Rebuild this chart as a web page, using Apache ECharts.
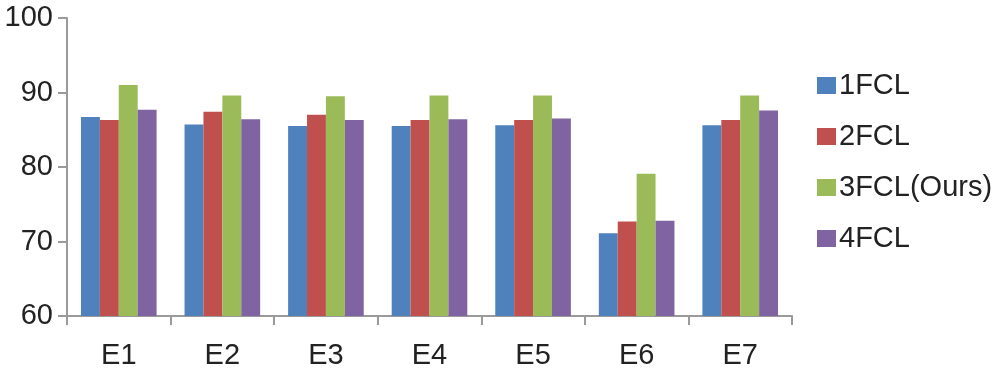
<!DOCTYPE html>
<html>
<head>
<meta charset="utf-8">
<script src="https://cdn.jsdelivr.net/npm/echarts@6/dist/echarts.min.js"></script>
<style>
  html, body { margin: 0; padding: 0; background: #fff; }
  #chart-box { width: 1000px; height: 373px; }
</style>
</head>
<body>
<div id="chart-box"></div>
<script>
const categories = ['E1', 'E2', 'E3', 'E4', 'E5', 'E6', 'E7']
const seriesNames = ['1FCL', '2FCL', '3FCL(Ours)', '4FCL']
const fcl1 = [86.7, 85.7, 85.5, 85.5, 85.6, 71.1, 85.6]
const fcl2 = [86.3, 87.4, 87.0, 86.3, 86.3, 72.7, 86.3]
const fcl3 = [91.0, 89.6, 89.5, 89.6, 89.6, 79.1, 89.6]
const fcl4 = [87.7, 86.4, 86.3, 86.4, 86.5, 72.8, 87.6]
const colors = ['#4F81BD', '#C0504D', '#9BBB59', '#8064A2']

const font = 'Liberation Sans, Arial, Helvetica, sans-serif'
const axisGray = '#9a9a9a'

const myChart = echarts.init(document.getElementById('chart-box'))
const options = {
  animation: false,
  color: colors,
  grid: { left: 67, right: 208, top: 18, bottom: 57 },
  legend: {
    orient: 'vertical',
    left: 812,
    top: 66,
    itemWidth: 19,
    itemHeight: 17,
    itemGap: 22,
    icon: 'rect',
    textStyle: { fontSize: 29, color: '#222', fontFamily: font, padding: [0, 0, 0, -2] }
  },
  xAxis: {
    type: 'category',
    data: categories,
    axisLine: { lineStyle: { color: axisGray, width: 2 } },
    axisTick: { show: true, length: 9, lineStyle: { color: axisGray, width: 2 } },
    axisLabel: { fontSize: 29, color: '#222', fontFamily: font, margin: 25 }
  },
  yAxis: {
    type: 'value',
    min: 60,
    max: 100,
    interval: 10,
    splitLine: { show: false },
    axisLine: { show: true, lineStyle: { color: axisGray, width: 2 } },
    axisTick: { show: true, length: 9, lineStyle: { color: axisGray, width: 2 } },
    axisLabel: { fontSize: 29, color: '#222', fontFamily: font, margin: 14 }
  },
  series: [fcl1, fcl2, fcl3, fcl4].map((d, i) => ({
    name: seriesNames[i],
    type: 'bar',
    data: d,
    barGap: '0%',
    barCategoryGap: '27%'
  }))
}
myChart.setOption(options)
</script>
</body>
</html>
